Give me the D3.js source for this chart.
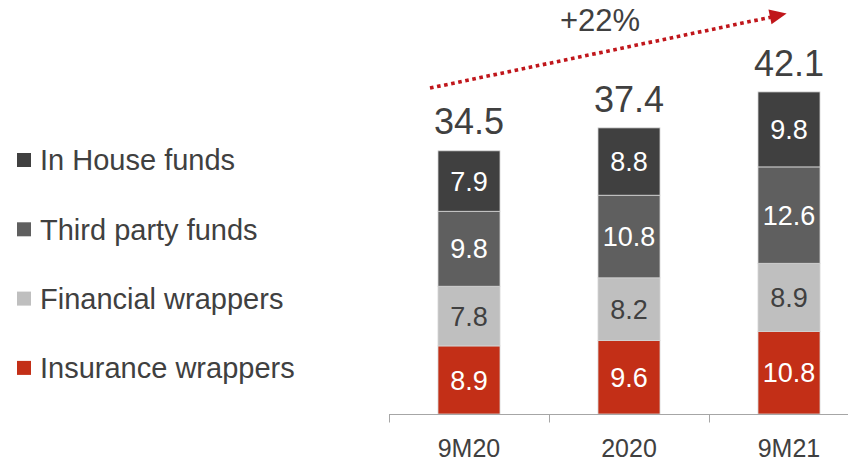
<!DOCTYPE html>
<html>
<head>
<meta charset="utf-8">
<script src="https://cdn.jsdelivr.net/npm/d3@7/dist/d3.min.js"></script>
<style>
  html, body { margin: 0; padding: 0; background: #fff; }
  svg { display: block; font-family: "Liberation Sans", Arial, sans-serif; }
</style>
</head>
<body>
<svg id="chart" width="848" height="461"></svg>
<script>
// Periods on the x axis
const periods = ["9M20", "2020", "9M21"];
// Series, bottom to top of each stack
const seriesNames = ["Insurance wrappers", "Financial wrappers", "Third party funds", "In House funds"];
const insuranceWrappers = [8.9, 9.6, 10.8];
const financialWrappers = [7.8, 8.2, 8.9];
const thirdPartyFunds   = [9.8, 10.8, 12.6];
const inHouseFunds      = [7.9, 8.8, 9.8];
const totals            = [34.5, 37.4, 42.1];
const growthLabel = "+22%";

const seriesColors = ["#c32f17", "#bfbfbf", "#5f5f5f", "#404040"];
const labelColors  = ["#ffffff", "#404040", "#ffffff", "#ffffff"];
const textColor = "#404040";

const table = periods.map((p, i) => ({
  period: p,
  "Insurance wrappers": insuranceWrappers[i],
  "Financial wrappers": financialWrappers[i],
  "Third party funds": thirdPartyFunds[i],
  "In House funds": inHouseFunds[i],
  total: totals[i]
}));

const svg = d3.select("#chart");

const x = d3.scaleBand().domain(periods).range([389, 869]).paddingInner(0).paddingOuter(0);
const barW = 62;
const y = d3.scaleLinear().domain([0, 50]).range([414, 31.5]);

const stack = d3.stack().keys(seriesNames)(table);

// Stacked bars
const layers = svg.append("g").selectAll("g")
  .data(stack).join("g")
  .attr("fill", (d, i) => seriesColors[i]);

layers.selectAll("rect")
  .data(d => d.map(v => ({ v, key: d.key })))
  .join("rect")
  .attr("x", d => x(d.v.data.period) + (x.bandwidth() - barW) / 2)
  .attr("width", barW)
  .attr("y", d => y(d.v[1]))
  .attr("height", d => y(d.v[0]) - y(d.v[1]))
  .attr("stroke", "#d4d4d4")
  .attr("stroke-width", 0.8);

// Segment value labels
layers.each(function (layer, li) {
  d3.select(this).selectAll("text")
    .data(layer)
    .join("text")
    .attr("x", d => x(d.data.period) + x.bandwidth() / 2)
    .attr("y", d => (y(d[0]) + y(d[1])) / 2)
    .attr("dy", "0.36em")
    .attr("text-anchor", "middle")
    .attr("font-size", 27)
    .attr("fill", labelColors[li])
    .text(d => (d[1] - d[0]).toFixed(1));
});

// Totals above bars
svg.append("g").selectAll("text")
  .data(table).join("text")
  .attr("x", d => x(d.period) + x.bandwidth() / 2)
  .attr("y", d => y(d.total) - 16)
  .attr("text-anchor", "middle")
  .attr("font-size", 36)
  .attr("fill", textColor)
  .text(d => d.total.toFixed(1));

// X axis
const axis = svg.append("g").attr("transform", "translate(0,414.5)")
  .call(d3.axisBottom(x).tickSize(0).tickPadding(0).tickFormat(""));
axis.select(".domain").remove();
axis.append("line").attr("x1", x.range()[0]).attr("x2", x.range()[1])
  .attr("stroke", "#a6a6a6").attr("stroke-width", 1);
axis.selectAll(".sep")
  .data(periods.concat(["end"])).join("line")
  .attr("class", "sep")
  .attr("x1", (d, i) => x.range()[0] + i * x.step() + 0.5)
  .attr("x2", (d, i) => x.range()[0] + i * x.step() + 0.5)
  .attr("y1", 0).attr("y2", 8)
  .attr("stroke", "#a6a6a6").attr("stroke-width", 1);
axis.selectAll(".lbl")
  .data(periods).join("text")
  .attr("class", "lbl")
  .attr("x", d => x(d) + x.bandwidth() / 2)
  .attr("y", 42)
  .attr("text-anchor", "middle")
  .attr("font-size", 25)
  .attr("fill", textColor)
  .text(d => d);

// Growth arrow from the first to the last period
const x0 = x(periods[0]) + (x.bandwidth() - barW) / 2 - 8;
const y0 = y(totals[0]) - 62;
const x1 = x(periods[2]) + x.bandwidth() / 2 - 17;
const y1 = y(totals[2]) - 75;
svg.append("line")
  .attr("x1", x0).attr("y1", y0).attr("x2", x1).attr("y2", y1)
  .attr("stroke", "#c0161b").attr("stroke-width", 3.6)
  .attr("stroke-dasharray", "3.6 3.6");
const ang = Math.atan2(y1 - y0, x1 - x0) * 180 / Math.PI;
svg.append("path")
  .attr("d", "M0,-7.5 L17,0 L0,7.5 Z")
  .attr("fill", "#c0161b")
  .attr("transform", `translate(${x1 - 2},${y1}) rotate(${ang})`);
svg.append("text")
  .attr("x", 600).attr("y", 31)
  .attr("text-anchor", "middle")
  .attr("font-size", 31)
  .attr("fill", textColor)
  .text(growthLabel);

// Legend, top series first
const legendKeys = seriesNames.slice().reverse();
const legend = svg.append("g").selectAll("g")
  .data(legendKeys).join("g")
  .attr("transform", (d, i) => `translate(17,${160 + i * 69.3})`);
legend.append("rect")
  .attr("x", 0).attr("y", -7).attr("width", 14).attr("height", 14)
  .attr("fill", d => seriesColors[seriesNames.indexOf(d)]);
legend.append("text")
  .attr("x", 23).attr("y", 0).attr("dy", "0.36em")
  .attr("font-size", 29)
  .attr("fill", textColor)
  .text(d => d);
</script>
</body>
</html>
